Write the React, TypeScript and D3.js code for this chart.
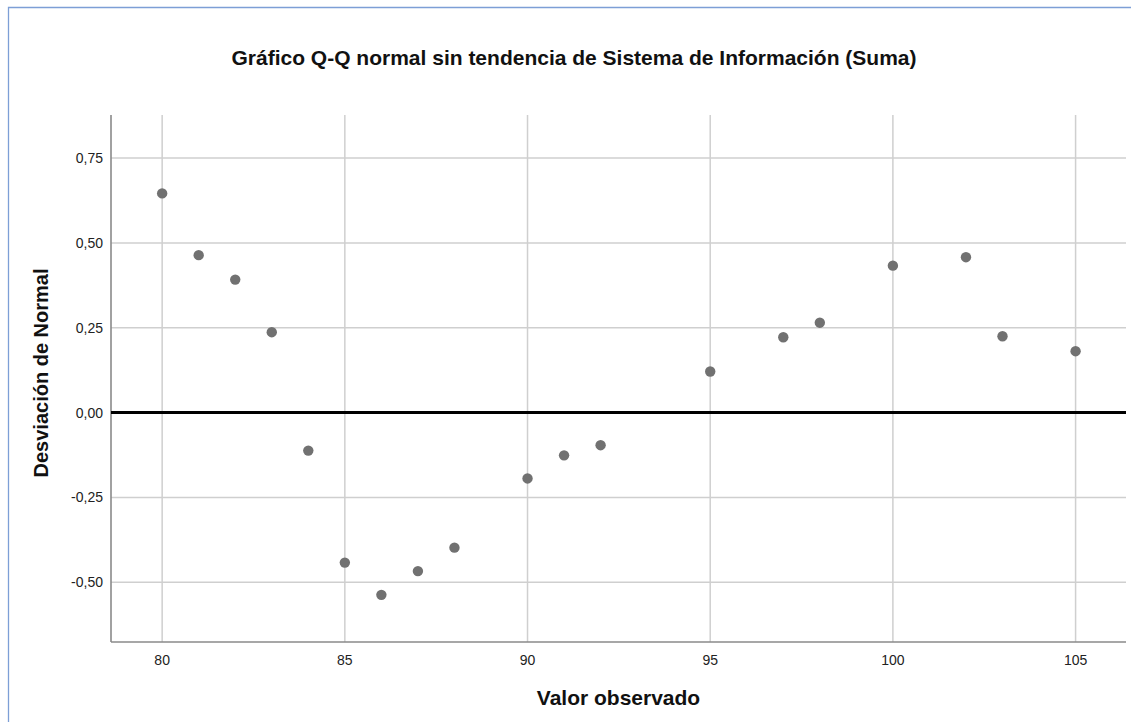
import React, { useRef, useEffect } from "react";
import * as d3 from "d3";

const observed = [80, 81, 82, 83, 84, 85, 86, 87, 88, 90, 91, 92, 95, 97, 98, 100, 102, 103, 105];
const deviation = [0.646, 0.464, 0.392, 0.237, -0.112, -0.442, -0.537, -0.467, -0.398, -0.194, -0.126, -0.096, 0.121, 0.222, 0.265, 0.433, 0.458, 0.225, 0.181];
const xTicks = [80, 85, 90, 95, 100, 105];
const yTicks = [-0.5, -0.25, 0, 0.25, 0.5, 0.75];

const title = "Gráfico Q-Q normal sin tendencia de Sistema de Información (Suma)";
const xLabel = "Valor observado";
const yLabel = "Desviación de Normal";

const W = 1131;
const H = 722;
const FONT = "'Liberation Sans', Arial, sans-serif";

const App = () => {
    const svgRef = useRef<SVGSVGElement>(null);

    useEffect(() => {
        const svg = d3.select(svgRef.current);
        svg.selectAll("*").remove();

        const left = 111;
        const right = 1126;
        const top = 115;
        const bottom = 642;

        const x = d3.scaleLinear().domain([78.6, 106.38]).range([left, right]);
        const y = d3.scaleLinear().domain([-0.676, 0.877]).range([bottom, top]);
        const fmt = (v: number) => v.toFixed(2).replace(".", ",");

        svg.append("rect").attr("width", W).attr("height", H).attr("fill", "white");

        // blue frame
        svg.append("path")
            .attr("d", `M8.5,${H} L8.5,7.5 L${W},7.5`)
            .attr("fill", "none")
            .attr("stroke", "#7d9fd6")
            .attr("stroke-width", 1.3);

        svg.append("text")
            .attr("x", 574)
            .attr("y", 65)
            .attr("text-anchor", "middle")
            .style("font-family", FONT)
            .style("font-size", "21px")
            .style("font-weight", "bold")
            .attr("fill", "#111")
            .text(title);

        const grid = svg.append("g");
        grid.selectAll(".vg")
            .data(xTicks)
            .enter()
            .append("line")
            .attr("x1", (d) => x(d))
            .attr("x2", (d) => x(d))
            .attr("y1", top)
            .attr("y2", bottom)
            .attr("stroke", "#cfcfcf")
            .attr("stroke-width", 1.5);
        grid.selectAll(".hg")
            .data(yTicks.filter((d) => d !== 0))
            .enter()
            .append("line")
            .attr("x1", left)
            .attr("x2", right)
            .attr("y1", (d) => y(d))
            .attr("y2", (d) => y(d))
            .attr("stroke", "#cfcfcf")
            .attr("stroke-width", 1.5);

        // axes lines
        svg.append("line")
            .attr("x1", left).attr("x2", left)
            .attr("y1", top).attr("y2", bottom)
            .attr("stroke", "#8a8a8a").attr("stroke-width", 1.6);
        svg.append("line")
            .attr("x1", left).attr("x2", right)
            .attr("y1", bottom).attr("y2", bottom)
            .attr("stroke", "#8a8a8a").attr("stroke-width", 1.6);

        // zero reference line
        svg.append("line")
            .attr("x1", left).attr("x2", right)
            .attr("y1", y(0)).attr("y2", y(0))
            .attr("stroke", "#000").attr("stroke-width", 3);

        svg.selectAll(".xt")
            .data(xTicks)
            .enter()
            .append("text")
            .attr("x", (d) => x(d))
            .attr("y", 665)
            .attr("text-anchor", "middle")
            .style("font-family", FONT)
            .style("font-size", "14px")
            .attr("fill", "#222")
            .text((d) => d);

        svg.selectAll(".yt")
            .data(yTicks)
            .enter()
            .append("text")
            .attr("x", 103)
            .attr("y", (d) => y(d) + 5)
            .attr("text-anchor", "end")
            .style("font-family", FONT)
            .style("font-size", "14px")
            .attr("fill", "#222")
            .text((d) => fmt(d));

        svg.selectAll("circle")
            .data(observed)
            .enter()
            .append("circle")
            .attr("cx", (d) => x(d))
            .attr("cy", (d, i) => y(deviation[i]))
            .attr("r", 5.2)
            .attr("fill", "#717171");

        svg.append("text")
            .attr("x", (left + right) / 2)
            .attr("y", 705)
            .attr("text-anchor", "middle")
            .style("font-family", FONT)
            .style("font-size", "21px")
            .style("font-weight", "bold")
            .attr("fill", "#111")
            .text(xLabel);

        svg.append("text")
            .attr("transform", `translate(47.5, 373) rotate(-90)`)
            .attr("text-anchor", "middle")
            .style("font-family", FONT)
            .style("font-size", "20px")
            .style("font-weight", "bold")
            .attr("fill", "#111")
            .text(yLabel);
    }, []);

    return (
        <div style={{ position: "absolute", left: 0, top: 0 }}>
            <svg ref={svgRef} width={W} height={H} style={{ display: "block" }} />
        </div>
    );
};

export default App;
